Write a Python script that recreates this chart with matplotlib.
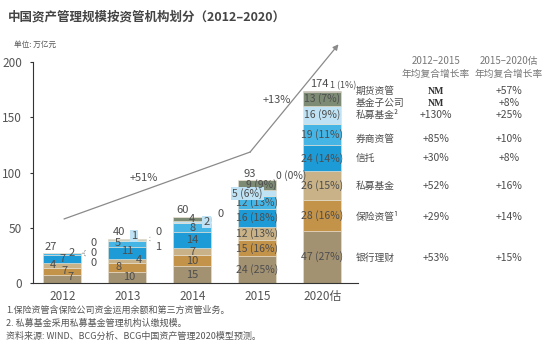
import matplotlib.pyplot as plt

plt.rcParams['font.family'] = ['Noto Sans CJK SC', 'DejaVu Sans']

years = ['2012', '2013', '2014', '2015', '2020估']
segments = ['银行理财', '保险资管¹', '私募基金', '信托', '券商资管', '私募基金²', '基金子公司', '期货资管']
bank = [7, 10, 15, 24, 47]
insurance = [7, 8, 10, 15, 28]
pe_fund = [4, 4, 7, 12, 26]
trust = [7, 11, 14, 16, 24]
broker = [2, 5, 8, 12, 19]
pe_fund2 = [0, 1, 2, 5, 16]
fund_sub = [0, 1, 4, 9, 13]
futures = [0, 0, 0, 0, 1]
pct_2015 = [25, 16, 13, 18, 13, 6, 9, 0]
pct_2020 = [27, 16, 15, 14, 11, 9, 7, 1]
totals = [27, 40, 60, 93, 174]
cagr_12_15 = ['+53%', '+29%', '+52%', '+30%', '+85%', '+130%', 'NM', 'NM']
cagr_15_20 = ['+15%', '+14%', '+16%', '+8%', '+10%', '+25%', '+8%', '+57%']

colors = ['#a39272', '#c4934a', '#c9b287', '#1d9bd7', '#45b5e6', '#bfe3f5', '#7d8b74', '#5a5a5a']
txt = '#4d4d4d'
series = [bank, insurance, pe_fund, trust, broker, pe_fund2, fund_sub, futures]

fig = plt.figure(figsize=(5.5, 3.44), dpi=100)
ax = fig.add_axes([33 / 550, 1 - 283 / 344, 325 / 550, 221 / 344])
x = list(range(len(years)))
w = 0.58

bottoms = [0] * len(years)
for vals, c in zip(series, colors):
    ax.bar(x, vals, w, bottom=bottoms, color=c, edgecolor='#e8e0d0', linewidth=0.4)
    bottoms = [b + v for b, v in zip(bottoms, vals)]

def fx(px):
    return px / 550

def fy(py):
    return 1 - py / 344

lightbox = dict(boxstyle='square,pad=0.1', fc='#bfe3f5', ec='none')

# small segments get nudged so the labels don't pile up: (bar, segment) -> (dx, dy)
nudge = {(0, 0): (0.13, 1.5), (0, 1): (0.03, 0.6), (0, 2): (-0.15, 0.3), (0, 3): (0.0, 0.2),
         (0, 4): (0.15, 1), (1, 0): (0.03, 0.4), (1, 1): (-0.14, 0.5), (1, 2): (0.18, 0.8),
         (1, 3): (0, 1.5), (1, 4): (-0.14, 0.5), (1, 5): (0.1, 4),
         (2, 5): (0.22, 0), (3, 5): (-0.15, -0.5), (3, 6): (0.06, 1)}

for i in x:
    base = 0
    for k, vals in enumerate(series):
        v = vals[i]
        mid = base + v / 2
        base += v
        if v == 0 or k == 7 or (i == 1 and k == 6):
            continue
        if i >= 3:
            pct = pct_2015 if i == 3 else pct_2020
            label = f'{v} ({pct[k]}%)'
        else:
            label = str(v)
        dx, dy = nudge.get((i, k), (0, 0))
        box = lightbox if (k == 5 and i < 4) else None
        fs = 8 if i < 3 else 7.5
        ax.text(i + dx, mid + dy, label, ha='center', va='center', fontsize=fs,
                color=txt, bbox=box)

# totals above bars
tot_dx = [-0.18, -0.12, -0.15, -0.11, -0.05]
for i, t in enumerate(totals):
    ax.text(i + tot_dx[i], t + 1.5, str(t), ha='center', va='bottom', fontsize=8,
            style='italic', color=txt)

lead = dict(arrowstyle='-', color='#888888', lw=0.6)
# zero segments of 2012 fanned out to the right
for v, yy in zip([futures[0], fund_sub[0], pe_fund2[0]], [36, 27, 18]):
    ax.annotate(str(v), xy=(w / 2 + 0.02, totals[0]), xytext=(0.43, yy),
                fontsize=8, color=txt, va='center', arrowprops=lead)
ax.annotate(str(futures[1]), xy=(1 + w / 2 + 0.02, totals[1]), xytext=(1.43, totals[1] + 6),
            fontsize=8, color=txt, va='center', arrowprops=lead)
ax.annotate(str(fund_sub[1]), xy=(1 + w / 2 + 0.02, totals[1]), xytext=(1.43, totals[1] - 7),
            fontsize=8, color=txt, va='center', arrowprops=lead)
ax.text(2 + w / 2 + 0.1, totals[2] + 2, str(futures[2]), fontsize=8, color=txt, va='center')
ax.text(3 + w / 2 + 0.0, totals[3] + 4, f'{futures[3]} ({pct_2015[7]}%)', fontsize=7.5,
        color=txt, va='center')
ax.text(4.32, totals[4] + 4.5, f'{futures[4]} ({pct_2020[7]}%)',
        fontsize=6.5, color=txt, ha='center', va='center')

# growth arrows
ax.plot([0.03, 2.89], [58, 118.5], color='#8a8a8a', lw=0.9, clip_on=False)
ax.annotate('', xy=(4.25, 216), xytext=(2.89, 118.5), annotation_clip=False,
            arrowprops=dict(arrowstyle='-|>', color='#8a8a8a', lw=0.9,
                            mutation_scale=8, shrinkA=0, shrinkB=0))
ax.text(1.25, 95, '+51%', fontsize=8, color=txt, ha='center', va='center')
ax.text(3.3, 166, '+13%', fontsize=8, color=txt, ha='center', va='center')

ax.set_xlim(-0.45, 4.55)
ax.set_ylim(0, 200)
ax.set_yticks([0, 50, 100, 150, 200])
ax.set_xticks(x)
ax.set_xticklabels(years)
ax.tick_params(axis='both', labelsize=8.5, labelcolor='#555555', color='#333333')
ax.tick_params(axis='x', length=0, pad=5)
ax.tick_params(axis='y', length=2, pad=6)
for s in ['top', 'right']:
    ax.spines[s].set_visible(False)
for s in ['left', 'bottom']:
    ax.spines[s].set_color('#333333')
    ax.spines[s].set_linewidth(0.8)

# titles and notes
fig.text(fx(8), fy(17), '中国资产管理规模按资管机构划分（2012–2020）', fontsize=9,
         fontweight='bold', color='#444444', va='center')
fig.text(fx(14), fy(45), '单位: 万亿元', fontsize=5.5, color='#555555', va='center')
notes = ['1.保险资管含保险公司资金运用余额和第三方资管业务。',
         '2. 私募基金采用私募基金管理机构认缴规模。',
         '资料来源: WIND、BCG分析、BCG中国资产管理2020模型预测。']
for n, py in zip(notes, [310, 323, 336]):
    fig.text(fx(6), fy(py), n, fontsize=6.5, color='#555555', va='center', style='italic')

# growth table on the right
for cx, head in [(436, '2012–2015'), (509, '2015–2020估')]:
    fig.text(fx(cx), fy(61), head, fontsize=7, color='#777777', ha='center', va='center')
    fig.text(fx(cx), fy(74), '年均复合增长率', fontsize=7, color='#777777', ha='center', va='center')
rows_y = [258, 217, 186, 158, 139, 115, 103, 91]
for name, a, b, py in zip(segments, cagr_12_15, cagr_15_20, rows_y):
    fig.text(fx(356), fy(py), name, fontsize=7, color=txt, va='center')
    if a == 'NM':
        fig.text(fx(436), fy(py), a, fontsize=7, color='#333333', ha='center', va='center',
                 family='Liberation Serif', fontweight='bold')
    else:
        fig.text(fx(436), fy(py), a, fontsize=7.5, color=txt, ha='center', va='center')
    fig.text(fx(509), fy(py), b, fontsize=7.5, color=txt, ha='center', va='center')

fig.savefig('out.png', dpi=100)
